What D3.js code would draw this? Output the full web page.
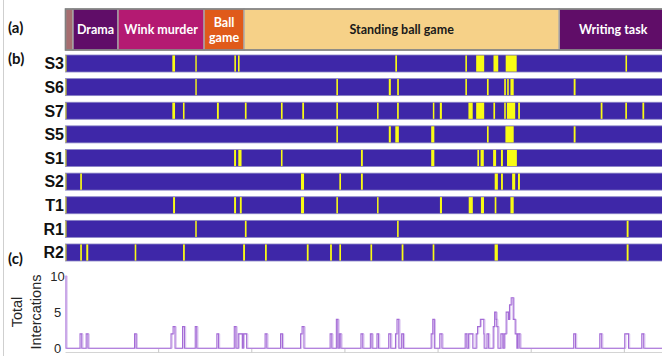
<!DOCTYPE html>
<html>
<head>
<meta charset="utf-8">
<script src="https://cdn.jsdelivr.net/npm/d3@7/dist/d3.min.js"></script>
<style>
  body { margin: 0; background: #fff; }
  svg { display: block; }
</style>
</head>
<body>
<svg id="chart" width="662" height="356"></svg>
<script>
// ---- session timeline (minutes) ----
const sessionEnd = 64.6;
const activityNames  = ["", "Drama", "Wink murder", "Ball game", "Standing ball game", "Writing task"];
const activityStart  = [0, 0.81, 5.64, 14.88, 19.17, 53.01];
const activityColors = ["#a66e70", "#600d68", "#b41a72", "#e05a1a", "#f6d188", "#600d68"];
const activityInk    = ["#fff", "#fff", "#fff", "#fff", "#1a1a1a", "#fff"];

// ---- interaction episodes per participant: [start, end] in minutes ----
const participants = ["S3", "S6", "S7", "S5", "S1", "S2", "T1", "R1", "R2"];
const S3 = [[0,0.1],[11.47,11.76],[13.94,14.09],[18.13,18.30],[18.52,18.69],[35.41,35.59],[42.93,43.10],[44.09,44.95],[45.95,46.46],[47.26,48.44],[60.12,60.29]];
const S6 = [[0,0.1],[13.94,14.09],[29.08,29.25],[34.71,34.93],[35.61,35.79],[42.93,43.10],[45.25,45.43],[47.10,47.28],[47.42,47.59],[47.77,48.12],[54.56,54.76]];
const S7 = [[0,0.1],[11.47,11.76],[12.61,12.78],[16.26,16.46],[19.26,19.44],[23.13,23.31],[25.42,25.61],[29.08,29.25],[33.45,33.61],[35.60,35.78],[39.44,39.60],[40.19,40.41],[43.26,43.72],[44.09,44.95],[45.94,46.12],[47.10,47.27],[47.39,48.28],[48.60,48.79],[57.46,57.65],[60.10,60.28],[61.94,62.13]];
const S5 = [[0,0.1],[29.08,29.25],[34.71,34.93],[35.41,35.79],[39.26,39.60],[45.25,45.43],[47.23,48.12],[54.56,54.76]];
const S1 = [[0,0.1],[18.10,18.31],[18.55,18.90],[23.13,23.30],[31.72,31.92],[39.26,39.60],[44.22,44.40],[44.56,44.91],[45.91,46.23],[46.75,46.96],[47.40,48.46]];
const S2 = [[0,0.1],[1.58,1.76],[25.28,25.61],[29.40,29.58],[31.72,31.92],[46.08,46.42],[46.76,46.96],[47.95,48.28],[48.58,48.79]];
const T1 = [[0,0.1],[11.55,11.76],[18.10,18.31],[18.72,18.92],[25.28,25.61],[29.08,29.25],[33.45,33.61],[40.20,40.42],[43.29,43.73],[44.60,44.93],[46.08,46.26],[47.77,48.12]];
const R1 = [[0,0.1],[13.93,14.09],[19.26,19.44],[35.60,35.77],[60.25,60.45]];
const R2 = [[0,0.1],[1.58,1.76],[2.23,2.44],[7.43,7.60],[12.62,12.81],[19.07,19.27],[21.42,21.61],[25.91,26.10],[28.41,28.60],[29.40,29.58],[32.74,32.92],[36.09,36.28],[39.42,39.60],[46.07,46.42],[60.25,60.45]];
const episodes = { S3, S6, S7, S5, S1, S2, T1, R1, R2 };

// ---- total interactions: [time, count] steps, count holds until next time ----
const interactionSteps = [
  [0,10],[0.05,0],
  [1.56,2],[1.75,0],
  [2.22,2],[2.42,0],
  [7.41,2],[7.59,0],
  [11.33,2],[11.55,3],[11.76,0],
  [12.57,3],[12.78,0],
  [13.93,3],[14.10,0],
  [16.25,2],[16.43,0],
  [18.12,3],[18.31,0],
  [18.55,2],[18.98,0],
  [19.09,2],[19.45,0],
  [21.43,2],[21.62,0],
  [23.09,2],[23.29,0],
  [25.24,2],[25.40,3],[25.60,0],
  [28.41,2],[28.60,0],
  [29.08,4],[29.25,0],
  [29.40,2],[29.57,0],
  [31.72,2],[31.92,0],
  [32.73,2],[32.92,0],
  [33.44,2],[33.61,0],
  [34.70,2],[34.92,0],
  [35.43,2],[35.59,4],[35.79,0],
  [36.09,2],[36.28,0],
  [39.26,2],[39.43,4],[39.60,0],
  [40.18,2],[40.42,0],
  [42.91,2],[43.10,0],
  [43.28,2],[43.73,0],
  [44.09,2],[44.24,3],[44.54,4],[44.91,2],[44.95,0],
  [45.25,2],[45.43,0],
  [45.92,3],[46.07,5],[46.23,4],[46.30,3],[46.43,0],
  [46.74,2],[46.96,0],
  [47.10,2],[47.31,5],[47.56,4],[47.67,6],[47.85,7],[48.07,4],[48.28,2],[48.46,0],
  [48.58,2],[48.79,0],
  [54.56,2],[54.76,0],
  [57.36,2],[57.57,0],
  [60.04,2],[60.45,0],
  [61.87,2],[62.08,0],
  [64.6,0]
];
const countTicks = [0, 5, 10];
const timeTicks = [10, 20, 30, 40, 50, 60];

// ---- palette (parula ends for off / on) ----
const offColor = "#3e27a8";
const onColor  = "#f9fb15";

const svg = d3.select("#chart");
// the session runs slightly past the right edge of the canvas and is clipped there
const x = d3.scaleLinear().domain([0, sessionEnd]).range([65.5, 667.2]);

// thin frame line at far left
svg.append("line").attr("x1", 3.5).attr("x2", 3.5).attr("y1", 0).attr("y2", 356)
  .attr("stroke", "#cfcfcf").attr("stroke-width", 1);

// panel tags
const tagFont = "Lato, 'Open Sans', sans-serif";
[["(a)", 33], ["(b)", 64], ["(c)", 264]].forEach(([t, yy]) => {
  svg.append("text").attr("x", 8).attr("y", yy).text(t)
    .attr("font-family", tagFont).attr("font-weight", 700).attr("font-size", 15).attr("fill", "#111");
});

// ---- (a) activity strip ----
const stripTop = 9, stripBottom = 50;
const acts = activityNames.map((name, i) => ({
  name, start: activityStart[i],
  end: i + 1 < activityStart.length ? activityStart[i + 1] : sessionEnd,
  color: activityColors[i], ink: activityInk[i]
}));
svg.append("g").selectAll("rect").data(acts).join("rect")
  .attr("x", d => x(d.start)).attr("width", d => x(d.end) - x(d.start))
  .attr("y", stripTop).attr("height", stripBottom - stripTop)
  .attr("fill", d => d.color).attr("stroke", "#a9a9a9").attr("stroke-width", 1.3);
svg.append("rect").attr("x", x(0)).attr("y", stripTop)
  .attr("width", x(sessionEnd) - x(0)).attr("height", stripBottom - stripTop)
  .attr("fill", "none").attr("stroke", "#7f7f7f").attr("stroke-width", 1.5);

const actLabels = svg.append("g").selectAll("text").data(acts.filter(d => d.name)).join("text")
  .attr("text-anchor", "middle")
  .attr("font-family", tagFont).attr("font-weight", 700).attr("font-size", 12.5)
  .attr("fill", d => d.ink);
actLabels.each(function (d) {
  const lines = d.name === "Ball game" ? ["Ball", "game"] : [d.name];
  const cy = (stripTop + stripBottom) / 2;
  const lh = 15;
  d3.select(this).selectAll("tspan").data(lines).join("tspan")
    .attr("x", (x(d.start) + x(d.end)) / 2)
    .attr("y", (l, i) => cy + 4.5 + (i - (lines.length - 1) / 2) * lh)
    .text(l => l);
});

// ---- (b) participant rasters ----
const y = d3.scaleBand().domain(participants).range([55, 261]).paddingInner(0.28);
const rows = svg.append("g").selectAll("g").data(participants).join("g")
  .attr("transform", p => `translate(0,${y(p)})`);
rows.append("rect").attr("x", x(0)).attr("width", x(sessionEnd) - x(0))
  .attr("height", y.bandwidth()).attr("fill", offColor)
  .attr("stroke", "#8a84c6").attr("stroke-width", 0.8);
rows.selectAll("rect.on").data(p => episodes[p]).join("rect").attr("class", "on")
  .attr("x", d => x(d[0])).attr("width", d => Math.max(0.8, x(d[1]) - x(d[0])))
  .attr("y", 0.4).attr("height", y.bandwidth() - 0.8).attr("fill", onColor);
rows.append("text").attr("x", 64).attr("y", y.bandwidth() / 2 + 5.8)
  .attr("text-anchor", "end").text(p => p)
  .attr("font-family", "'Liberation Sans', Arial, sans-serif").attr("font-weight", 700)
  .attr("font-size", 16).attr("fill", "#111");

// ---- (c) total interactions ----
const yc = d3.scaleLinear().domain([0, 10]).range([348.3, 276]);
const axisY = 352.5;
svg.append("line").attr("x1", x(0)).attr("x2", x(sessionEnd)).attr("y1", axisY).attr("y2", axisY)
  .attr("stroke", "#d4d4d4").attr("stroke-width", 1);
svg.append("g").selectAll("line").data(timeTicks).join("line")
  .attr("x1", d => x(d)).attr("x2", d => x(d)).attr("y1", axisY).attr("y2", axisY - 3.5)
  .attr("stroke", "#c8c8c8").attr("stroke-width", 1);
svg.append("g").selectAll("text").data(countTicks).join("text")
  .attr("x", 57.5).attr("y", d => yc(d) + 4.6).attr("text-anchor", "middle")
  .text(d => d).attr("font-family", "'Liberation Sans', Arial, sans-serif")
  .attr("font-size", 13).attr("fill", "#262626");

const ylab = svg.append("text").attr("transform", "translate(22,312) rotate(-90)")
  .attr("text-anchor", "middle").attr("font-family", "'Liberation Sans', Arial, sans-serif")
  .attr("font-size", 14.5).attr("fill", "#262626");
ylab.append("tspan").attr("x", 0).attr("y", 0).text("Total");
ylab.append("tspan").attr("x", 0).attr("y", 18.5).text("Intercations");

const stepLine = d3.line().x(d => x(d[0])).y(d => yc(d[1])).curve(d3.curveStepAfter);
svg.append("path").datum(interactionSteps).attr("d", stepLine)
  .attr("fill", "none").attr("stroke", "#d9c3ef").attr("stroke-width", 1)
  .attr("transform", "translate(1.2,0)");
svg.append("path").datum(interactionSteps).attr("d", stepLine)
  .attr("fill", "none").attr("stroke", "#a46bd6").attr("stroke-width", 1.1);
</script>
</body>
</html>
